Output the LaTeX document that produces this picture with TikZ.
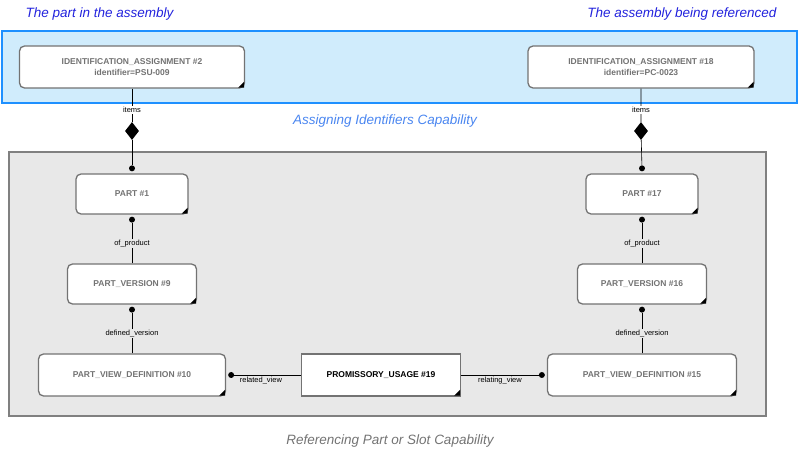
\documentclass[tikz,border=0pt]{standalone}
\usepackage{fontspec}
\setmainfont{Liberation Sans}
\usetikzlibrary{shapes.geometric,positioning}
\definecolor{capblue}{HTML}{D0ECFC}
\definecolor{capedge}{HTML}{1E90FF}
\definecolor{capgray}{HTML}{E8E8E8}
\definecolor{notedark}{HTML}{2222DD}
\definecolor{notelight}{HTML}{4A86F0}
\tikzset{
  entity/.style={draw=gray!90!black, line width=1.3pt, fill=white, rounded corners=5pt,
    font=\fontsize{8.5}{10.5}\selectfont\bfseries, text=gray!90!black, align=center},
  plain entity/.style={entity, rounded corners=0pt, text=black},
  rel/.style={line width=0.6pt},
  lab/.style={font=\fontsize{7.5}{9}\selectfont, fill=capgray, inner sep=1pt},
  dot/.style={circle, fill=black, inner sep=0pt, minimum size=6pt},
  agg/.style={diamond, fill=black, inner sep=0pt, minimum width=14pt, minimum height=18pt},
  note/.style={font=\itshape\fontsize{13.5}{16}\selectfont}
}
\newcommand{\corner}[1]{\fill (#1.south east) ++(-1pt,1pt) -- ++(-6pt,0) -- ++(6pt,6pt) -- cycle;}
\begin{document}
\begin{tikzpicture}[x=1pt, y=-1pt]
\useasboundingbox (0,0) rectangle (801,454);
% capability frames
\draw[draw=capedge, line width=2.2pt, fill=capblue] (2,31) rectangle (797,103);
\draw[draw=gray, line width=1.5pt, fill=capgray] (9,152) rectangle (766,416);
\node[note, text=notedark, anchor=west] (tleft) at (22,14) {The part in the assembly};
\node[note, text=notedark, anchor=east] (tright) at (780,14) {The assembly being referenced};
\node[note, text=notelight] (tassign) at (385,121) {Assigning Identifiers Capability};
\node[note, text=gray!90!black] (tref) at (390,441) {Referencing Part or Slot Capability};
% entities
\node[entity, minimum width=225pt, minimum height=42pt] (ia2) at (132,67) {IDENTIFICATION\_ASSIGNMENT \#2\\identifier=PSU-009};
\node[entity, minimum width=226pt, minimum height=42pt] (ia18) at (641,67) {IDENTIFICATION\_ASSIGNMENT \#18\\identifier=PC-0023};
\node[entity, minimum width=112pt, minimum height=40pt] (p1) at (132,194) {PART \#1};
\node[entity, minimum width=112pt, minimum height=40pt] (p17) at (642,194) {PART \#17};
\node[entity, minimum width=129pt, minimum height=40pt] (pv9) at (132,284) {PART\_VERSION \#9};
\node[entity, minimum width=129pt, minimum height=40pt] (pv16) at (642,284) {PART\_VERSION \#16};
\node[entity, minimum width=187pt, minimum height=42pt] (pvd10) at (132,375) {PART\_VIEW\_DEFINITION \#10};
\node[entity, minimum width=189pt, minimum height=42pt] (pvd15) at (642,375) {PART\_VIEW\_DEFINITION \#15};
\node[plain entity, minimum width=159pt, minimum height=42pt] (pu19) at (381,375) {PROMISSORY\_USAGE \#19};
\foreach \n in {ia2,ia18,p1,p17,pv9,pv16,pvd10,pvd15,pu19} {\corner{\n}}
% aggregation connectors
\foreach \a/\b in {ia2/p1, ia18/p17} {
  \node[agg] (agg\a) at (\a.south |- 0,131) {};
  \node[dot] (dot\a) at ([yshift=5pt]\b.north) {};
  \draw[rel] (\a) -- (agg\a) -- (dot\a);
  \node[font=\fontsize{7.5}{9}\selectfont, inner sep=1pt, fill=white] (it\a) at (\a.south |- 0,110) {items};
}
% attribute connectors
\foreach \a/\b/\t in {pv9/p1/of\_product, pv16/p17/of\_product, pvd10/pv9/defined\_version, pvd15/pv16/defined\_version} {
  \node[dot] (dot\a) at ([yshift=-5pt]\b.south) {};
  \draw[rel] (\a) -- (dot\a) node[lab, midway] {\t};
}
\node[dot] (dotrel) at ([xshift=5pt]pvd10.east) {};
\node[dot] (dotring) at ([xshift=-5pt]pvd15.west) {};
\draw[rel] (pu19) -- (dotrel) node[lab, pos=0.6, below=1pt, fill=none] {related\_view};
\draw[rel] (pu19) -- (dotring) node[lab, midway, below=1pt, fill=none] {relating\_view};
\end{tikzpicture}
\end{document}
